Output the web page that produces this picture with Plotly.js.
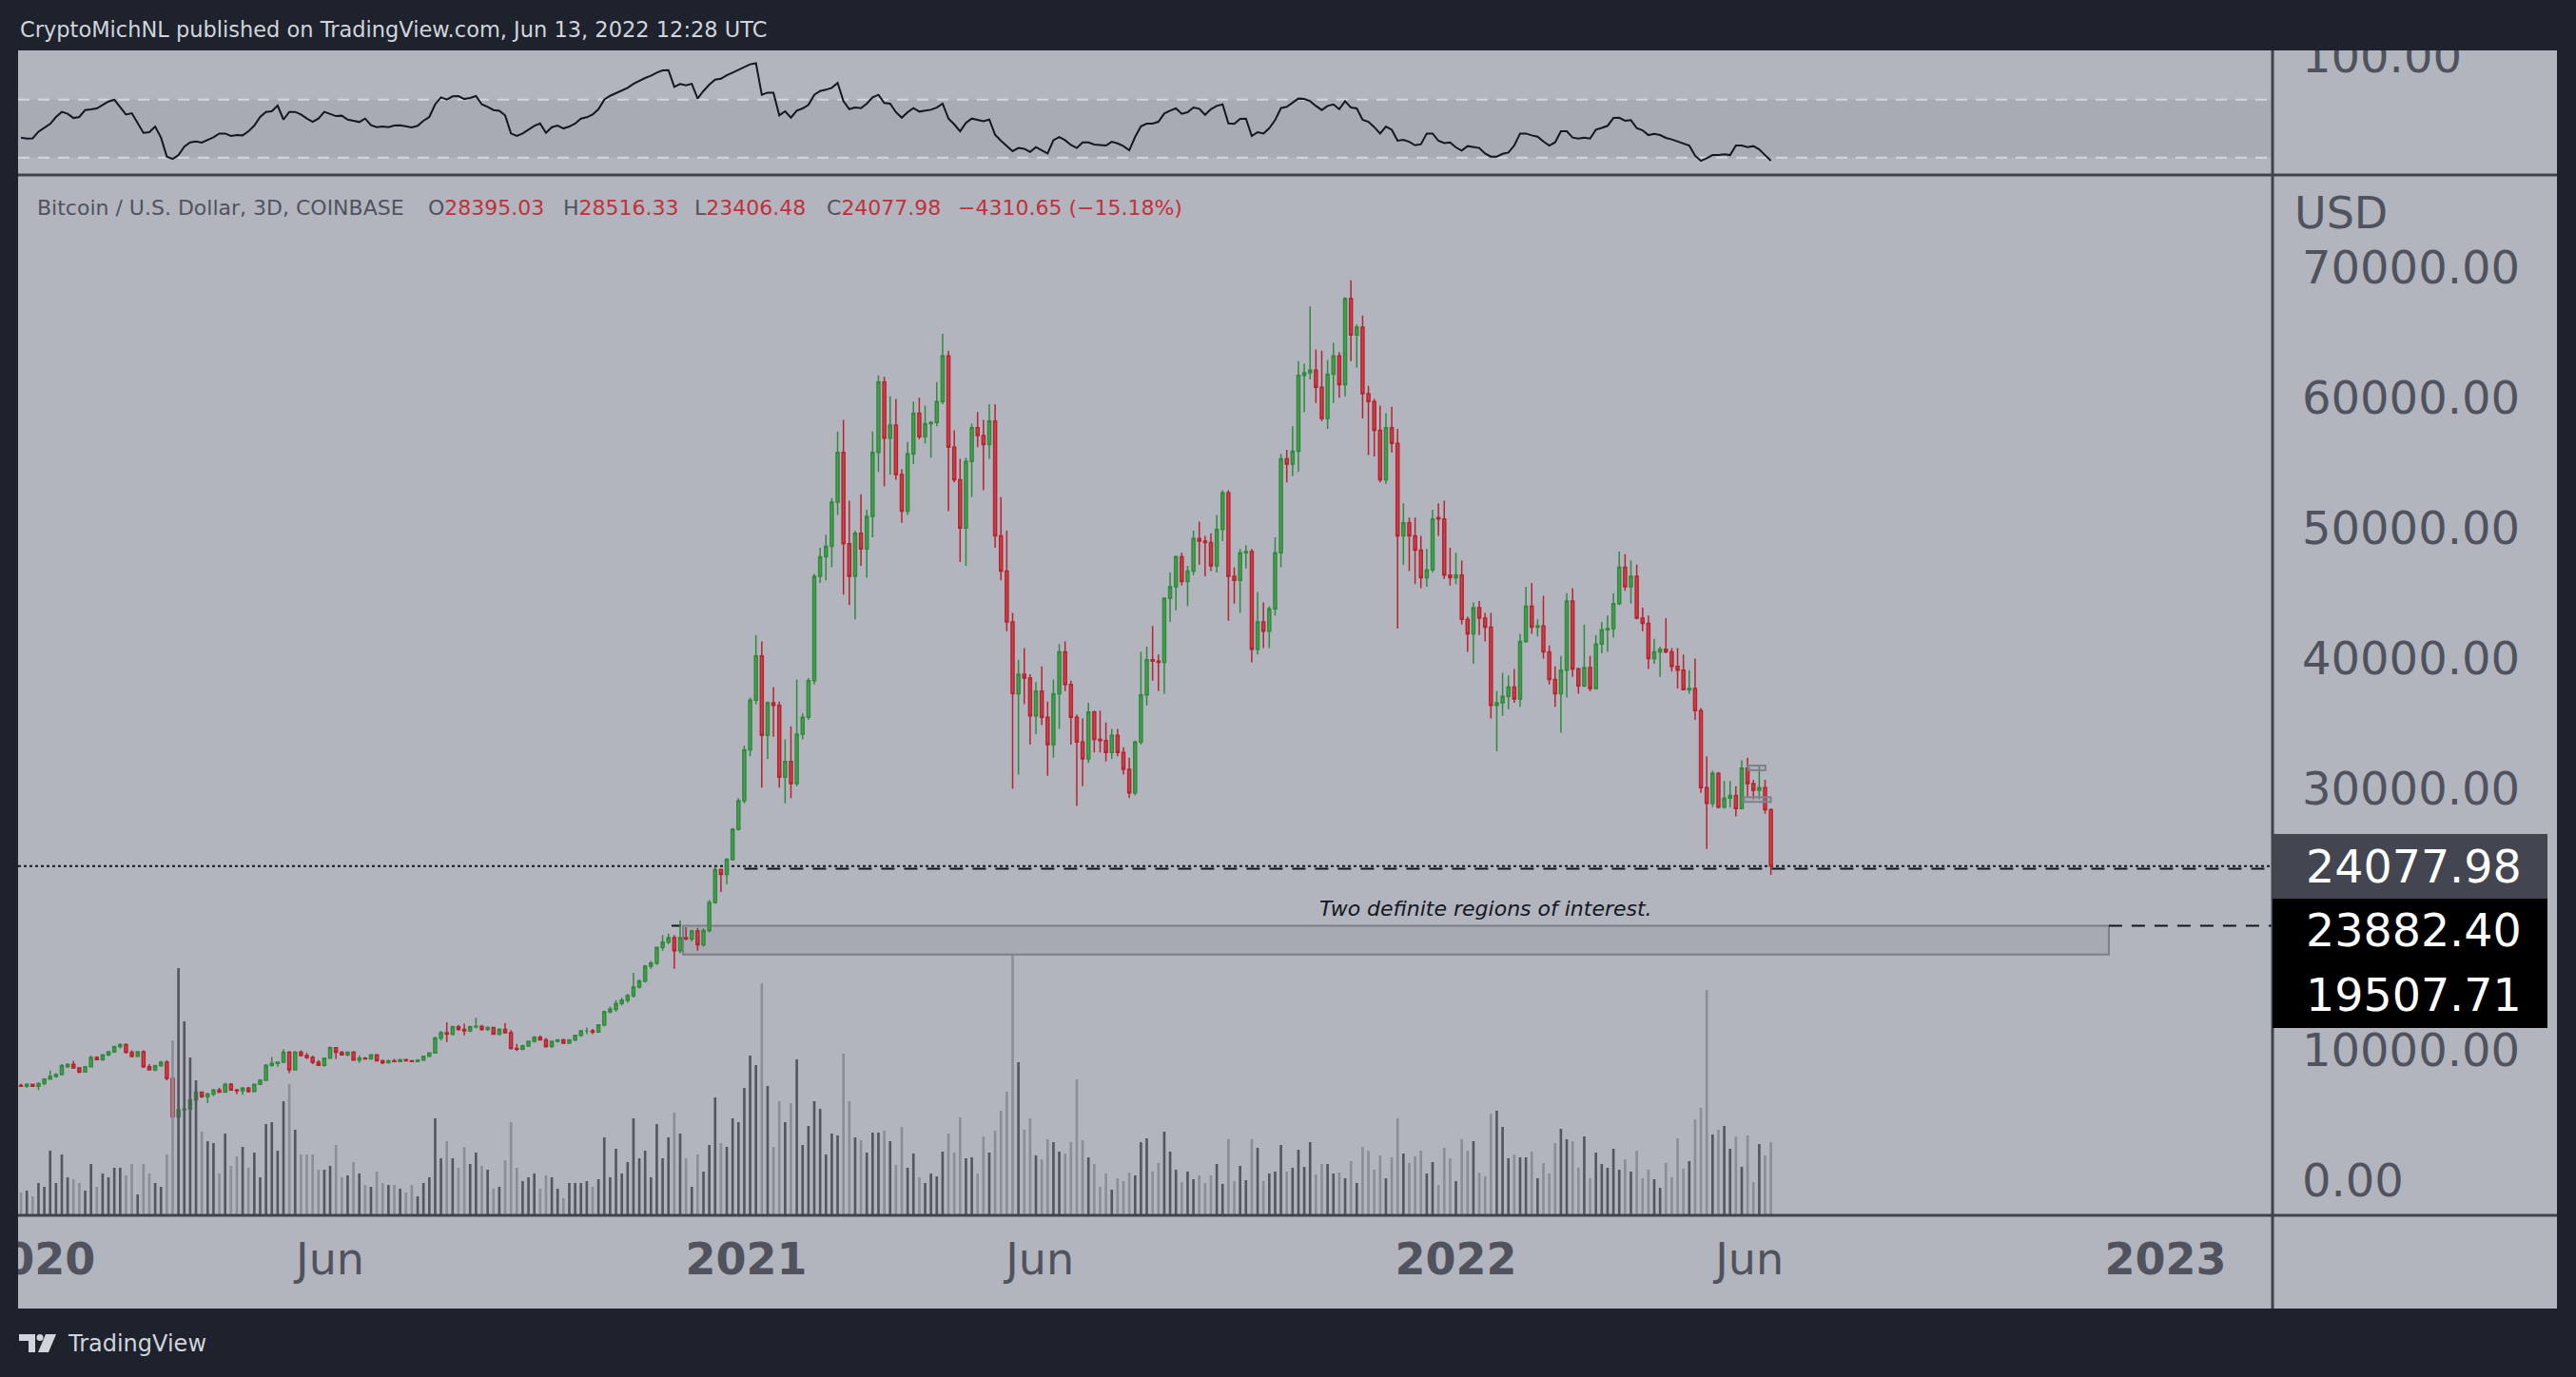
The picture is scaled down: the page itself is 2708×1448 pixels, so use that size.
<!DOCTYPE html>
<html>
<head>
<meta charset="utf-8">
<script src="https://cdn.plot.ly/plotly-3.0.1.min.js"></script>
<style>
  html, body { margin: 0; padding: 0; background: #1e222d; }
  #chart { width: 2708px; height: 1448px; }
</style>
</head>
<body>
<div id="chart"></div>
<script>
// ---------------- DATA ----------------
// 3-day candles, first bar 2019-12-25, one bar every 3 days
const START_DATE = '2019-12-25';
const BAR_DAYS = 3;

const OPEN = [7250,7200,7350,7200,7400,7750,7950,8100,8700,8880,8600,8300,8700,9400,9250,9600,9850,10250,10400,9800,
9500,9850,8700,8450,8780,9050,7800,4850,5400,5450,6150,6750,6400,6600,6900,6750,7350,6900,6850,7050,
6800,7350,7650,8800,8950,9050,9800,8450,9800,9550,9400,9050,8800,9350,10150,9800,9600,9800,9200,9350,
9300,9600,9150,9000,9150,9100,9250,9150,9100,9200,9500,9750,10900,11300,11200,11750,11550,11450,11750,11800,
11550,11700,11200,11550,11300,10100,10050,10300,10650,10950,10750,10250,10650,10750,10500,10750,11100,11450,11450,11350,
11900,12900,13100,13550,13800,14150,14800,15250,16400,16650,17850,18250,18600,17600,18600,18500,19100,18050,19150,21300,
23800,23450,24600,26900,29100,33000,36800,40200,34100,36600,36400,30900,32100,30400,34200,35500,38300,46300,47800,48600,
52000,55800,48800,46300,49600,48400,50900,55800,61200,56900,57900,54100,51300,55700,58800,57000,58000,58100,59700,63200,
56200,53700,50000,55100,57700,57100,56400,58200,49400,46700,42800,37300,38800,38500,35600,37500,35500,33400,37300,40500,
38000,35500,33600,32300,35900,33800,33700,32800,34100,32800,31500,29700,33600,37200,39900,39800,39700,44600,45500,47800,
45900,46700,49200,49000,48900,47100,49900,52700,46300,46000,48100,48200,40700,42800,42100,43800,48100,55300,54900,55900,
61700,61900,62100,60800,58400,61800,63200,61000,67600,64800,65400,60300,59700,57500,53700,57700,56500,49400,50400,49400,
48300,46200,46800,50800,50700,46400,46200,46400,43000,41900,43900,43100,42400,36400,36600,37100,37800,36900,41300,44000,
42400,42500,40500,38400,37300,39100,44400,39200,37900,39300,37700,41100,42200,42300,44200,47000,45500,46300,43100,42700,
40000,40500,40700,40500,39400,39100,37600,37700,36000,30100,28900,31200,28600,29300,29500,28500,31600,30400,29900,30100,
28395.03];

const HIGH = [7400,7420,7400,7500,7800,8400,8200,8900,8950,9150,8650,8750,9550,9500,9650,9900,10300,10500,10500,9950,
9900,9950,8900,8850,9150,9200,7950,5950,6150,6300,6850,6800,6700,7000,7100,7450,7450,7000,7150,7150,
7400,7750,8900,9450,9100,10050,9900,9900,9950,9750,9550,9200,9400,10250,10200,9900,9850,9900,9550,9450,
9650,9650,9250,9250,9300,9300,9300,9200,9250,9550,9800,11000,11450,12100,11850,11900,12000,11850,12450,11900,
11800,11750,11650,12050,11500,10450,10400,10700,11050,11100,10900,10700,10800,10850,10800,11150,11500,11700,11600,11950,
13000,13300,13800,14000,14300,15900,15400,16500,16800,17900,18800,18900,18800,19900,19400,19200,19350,19300,21500,24000,
23900,24700,27000,29300,33300,37000,41800,41300,36700,37800,36700,33800,34800,38400,35800,38500,46500,48500,49500,52300,
57400,58300,52100,49800,52600,51400,57400,61700,61600,60100,59900,54500,56600,59700,60000,59400,58200,61200,64900,63600,
57500,55300,55400,58000,58900,58300,59500,59500,52400,49800,43500,39900,40800,38800,38200,39400,36700,38400,41100,41300,
38300,35700,35400,36600,36000,36000,35100,34600,34600,33200,32400,33700,40500,40900,42500,40300,44700,46600,47900,48100,
47100,49800,50500,49400,49600,51000,52900,52900,47000,48400,48700,48400,45100,44300,44000,49300,55700,56000,57800,62800,
62600,67000,63700,63600,62900,64200,63500,67700,69000,65600,66300,60900,59900,59400,58800,59300,57600,51900,50800,50800,
49400,48400,51400,51900,52100,48500,48100,47500,43200,44300,44400,43500,43500,37500,38900,38700,39200,41900,45500,45800,
43000,44800,41000,39400,40200,45000,45400,39300,42600,40200,41800,42800,43300,45000,48200,48000,47500,47200,43900,43300,
41500,40900,43100,40800,40800,40300,39100,40000,36200,32500,31400,31300,30600,30600,30200,32200,32400,30700,31800,30700,
28516.33];

const LOW = [7150,7100,7150,6900,7300,7700,7850,8050,8600,8550,8200,8250,8650,9200,9150,9500,9750,10100,9700,9400,
9450,8600,8400,8350,8700,7650,4650,3850,4450,5350,5950,6300,5900,6450,6700,6700,6850,6600,6550,6700,
6750,7300,7600,8700,8700,9000,8200,8400,9500,9300,8900,8750,8700,9300,9300,9550,9500,9150,9000,9250,
9250,9100,8900,8950,9050,9050,9100,9050,9050,9150,9450,9700,10700,10600,11100,11450,11100,11350,11650,11450,
11450,11150,11100,11250,10000,9900,9950,10200,10550,10700,10150,10150,10550,10450,10450,10650,11000,11200,11200,11300,
11800,12800,12900,13400,13600,14000,14700,15150,16200,16500,17600,18100,16200,17400,18400,18300,17600,17900,19000,21200,
22100,22700,24500,26800,28900,32500,36500,30100,32300,34000,30100,28900,29300,30200,33800,35300,38000,45800,46000,47000,
51000,44900,44100,43000,47100,46200,49300,54300,53200,54100,53700,50400,51000,54900,56800,56500,55400,57800,59500,51300,
53500,47400,47100,52400,56200,52900,55300,48500,46000,42100,30000,31100,36500,33400,34200,34900,31000,32400,34600,37500,
33400,28700,30200,32000,32800,32800,32100,32300,32500,31100,29300,29500,33400,36400,38300,37500,37300,42800,43700,45600,
44000,46400,47200,46300,46700,46600,49000,42900,44200,43500,46900,39700,40300,40800,40800,43300,47000,53500,54000,54300,
58900,61400,59600,58200,57600,59600,60000,60100,62800,62300,58400,55600,55500,53500,53400,55800,42300,47200,46700,45700,
45400,45500,46600,49400,46100,45600,45700,42600,40500,39600,41800,41300,35400,32900,35600,36100,36600,36300,41200,41900,
41700,40000,38000,36300,34300,37000,38600,37300,37800,37500,37600,40400,40500,41600,44100,45200,44200,43000,42100,39200,
39600,38600,40400,39000,37700,37600,37300,35300,29700,25400,28600,28500,28500,28600,27900,28500,29400,29200,29200,28100,
23406.48];

const CLOSE = [7200,7350,7200,7400,7750,7950,8100,8780,8880,8600,8300,8700,9400,9250,9600,9850,10250,10400,9800,9500,
9850,8700,8450,8780,9050,7800,4850,5400,5450,6150,6750,6400,6600,6900,6750,7350,6900,6850,7050,6800,
7350,7650,8800,8950,9050,9800,8450,9800,9550,9400,9050,8800,9350,10150,9800,9600,9800,9200,9350,9300,
9600,9150,9000,9150,9100,9250,9150,9100,9200,9500,9750,10900,11300,11200,11750,11550,11450,11750,11800,11550,
11700,11200,11550,11300,10100,10050,10300,10650,10950,10750,10250,10650,10750,10500,10750,11100,11450,11450,11350,11900,
12900,13100,13550,13800,14150,14800,15250,16400,16650,17850,18250,18600,17600,18600,18500,19100,18050,19150,21300,23800,
23450,24600,26900,29100,33000,36800,40200,34100,36600,36400,30900,32100,30400,34200,35500,38300,46300,47800,48600,52000,
55800,48800,46300,49600,48400,50900,55800,61200,56900,57900,54100,51300,55700,58800,57000,58000,58100,59700,63200,56200,
53700,50000,55100,57700,57100,56400,58200,49400,46700,42800,37300,38800,38500,35600,37500,35500,33400,37300,40500,38000,
35500,33600,32300,35900,33800,33700,32800,34100,32800,31500,29700,33600,37200,39900,39800,39700,44600,45500,47800,45900,
46700,49200,49000,48900,47100,49900,52700,46300,46000,48100,48200,40700,42800,42100,43800,48100,55300,54900,55900,61700,
61900,62100,60800,58400,61800,63200,61000,67600,64800,65400,60300,59700,57500,53700,57700,56500,49400,50400,49400,48300,
46200,46800,50700,50700,46400,46200,46400,43000,41900,43900,43100,42400,36400,36600,37100,37800,36900,41300,44000,42400,
42500,40500,38400,37300,39100,44400,39200,37900,39300,37700,41100,42200,42300,44200,47000,45500,46300,43100,42700,40000,
40500,40700,40500,39400,39100,37600,37700,36000,30100,28900,31200,28600,29300,29500,28500,31600,30400,29900,30100,28395,
24077.98];

// volume (relative units, thousands)
const VOLUME = [12,13,10,17,15,34,17,32,20,19,17,13,27,15,22,20,25,25,21,27,
11,27,22,17,15,32,92,130,102,83,71,44,39,38,22,43,26,31,36,25,
33,20,48,49,34,60,69,45,32,32,32,24,24,26,37,20,21,28,22,16,
15,23,17,16,16,14,12,16,10,17,20,51,30,39,30,25,36,27,33,26,
24,14,15,29,49,25,18,20,22,14,21,20,14,9,17,17,17,18,15,19,
41,20,35,22,28,51,30,34,20,48,30,41,54,43,30,15,32,23,37,62,
38,36,51,49,67,84,79,122,68,36,60,49,59,82,37,47,60,56,32,43,
42,85,60,41,39.5,33,43.5,43.5,44.5,39,26.5,46.5,25,32.5,20,17,22,20.5,33.5,43,
33,51.5,30,30.5,22,41.5,33,44.5,55,65,137,80.5,45,51,31.5,29.5,40,38.5,33.5,32.5,
38.5,71.5,39.5,30.5,27,15,22,13.5,19.5,18,22.5,21,38.5,40.5,23,27.5,44,33.5,24,17.5,
23,19,21,17,21,27,16.5,40,18,26,18.5,40,35.5,18,22,23,37,23,25,34.5,
25.5,38.5,21.5,27,27,22,22.5,19.5,28.5,17,36,34,24,31.5,19.5,30.5,51,32.5,27.5,31,
34,22,28,16,35.5,30,18,40,34,39,22.5,20.5,53.5,55,46.5,30,32,30.5,30.5,33.5,
19.5,27.5,22,38,45.5,40,39,25,41.5,19.5,33,27,25,35,24,29.5,23,34,19.5,24,
19,14.5,27.5,20,40.5,24.5,28.5,50.5,56.5,118.5,42.5,45,47,35,41.5,25.5,42,17.5,37.5,31.5,
38.5];

// RSI (14) values
const RSI = [43.8,43.1,43.3,47.9,50.5,53.2,58.0,61.5,60.2,57.3,58.0,62.8,63.2,63.9,66.3,68.7,69.8,64.5,59.7,60.6,
53.6,47.0,47.5,51.4,43.8,30.7,29.1,31.7,37.6,40.5,41.1,40.3,42.2,44.0,46.6,46.6,44.9,45.5,45.3,48.1,
52.1,58.0,61.5,61.9,65.8,56.2,61.5,61.5,59.7,56.9,54.7,56.9,61.5,60.2,58.6,58.9,56.2,55.4,54.5,56.9,
52.3,51.0,51.4,51.0,52.1,52.3,51.6,50.8,51.9,55.4,58.0,66.7,71.5,70.0,72.2,72.4,70.4,71.1,72.4,66.7,
65.0,62.8,62.3,59.1,46.6,44.9,46.6,49.2,51.9,53.6,47.0,51.0,52.1,50.1,51.4,53.4,56.9,57.8,59.7,63.4,
70.0,72.6,74.4,75.9,78.1,80.9,83.1,84.9,86.4,88.6,90.1,90.3,78.7,80.7,79.8,80.9,70.7,75.9,80.3,83.8,
84.4,86.8,88.6,90.5,92.5,94.3,95.1,73.3,74.8,74.8,59.1,61.9,57.5,62.3,63.9,66.3,73.3,75.9,76.8,78.1,
81.4,68.9,63.4,64.5,64.1,67.2,71.5,73.3,67.6,67.2,61.3,
57.5,61.3,64.1,61.7,62.3,63.0,64.5,67.2,56.9,52.9,48.1,54.0,56.9,55.8,55.1,56.2,45.7,41.6,38.3,34.4,
36.6,36.1,33.9,37.2,35.0,32.8,42.0,44.2,42.0,38.7,36.6,40.5,40.5,39.0,38.7,38.3,40.9,39.8,37.9,35.0,
44.2,51.6,53.4,53.4,54.7,60.4,62.3,63.9,60.2,61.3,64.5,63.7,59.5,63.4,65.6,66.7,53.6,53.2,56.7,56.9,
44.9,47.5,46.6,50.3,55.8,64.1,65.0,67.6,70.7,70.4,68.9,65.6,62.8,65.6,66.7,63.4,68.9,64.5,63.9,56.0,
54.7,51.0,46.6,51.4,49.2,41.6,42.2,40.9,38.5,39.2,46.6,46.6,41.6,40.0,40.5,37.0,34.8,37.9,37.2,36.6,
32.8,30.7,30.7,32.6,33.5,38.3,46.6,46.6,45.3,44.4,41.1,38.3,40.5,48.1,48.1,43.8,43.1,43.8,43.1,49.2,
50.5,51.9,57.3,57.5,55.4,55.8,50.3,48.8,45.5,46.4,45.5,43.6,42.5,41.1,39.6,38.3,31.3,27.8,29.6,31.7,
31.7,32.2,31.7,38.3,38.3,37.2,37.9,35.7,31.7,27.8];

const X_TICK_VALS = ['2020-01-01','2020-06-01','2021-01-01','2021-06-01','2022-01-01','2022-06-01','2023-01-01'];
const X_TICK_TEXT = ['<b>2020</b>','Jun','<b>2021</b>','Jun','<b>2022</b>','Jun','<b>2023</b>'];
const Y_TICK_VALS = [0,10000,30000,40000,50000,60000,70000];
const Y_TICK_TEXT = ['0.00','10000.00','30000.00','40000.00','50000.00','60000.00','70000.00'];
const RSI_TICK_VALS = [100];
const RSI_TICK_TEXT = ['100.00'];
const RSI_BAND = [30, 70];

const LAST_PRICE = 24077.98;
const LEVEL_A = 23882.40;
const LEVEL_B = 19507.71;
const ZONE_BOTTOM = 17300;
const ZONE_START = '2020-11-29 12:00';
const ZONE_END = '2022-12-02 19:00';
const LEVEL_A_START = '2020-12-31';
const MINI_BOX_1 = {x0:'2022-05-31 07:00', x1:'2022-06-09 05:00', y0:31430, y1:31790};
const MINI_BOX_2 = {x0:'2022-05-29 02:00', x1:'2022-06-12', y0:29000, y1:29360};
const X_RANGE = ['2019-12-23 12:00', '2023-02-25'];

// ---------------- BUILD ----------------
const W = 2708, H = 1448;
const fx = p => p / W;
const fy = p => 1 - p / H;
const DAY = 864e5;
const t0 = Date.parse(START_DATE + 'T00:00:00Z');
const DATES = CLOSE.map((_, i) => new Date(t0 + i * BAR_DAYS * DAY).toISOString().slice(0, 10));

const FONT = 'DejaVu Sans';
const AXIS_TXT = '#50535e';
const volColors = CLOSE.map((c, i) => c >= OPEN[i] ? '#54575f' : '#8b8e97');

const traces = [
  {
    type: 'bar', x: DATES, y: VOLUME, xaxis: 'x', yaxis: 'y3',
    width: 1.3 * DAY, marker: { color: volColors, line: { width: 0 } },
    hoverinfo: 'skip'
  },
  {
    type: 'candlestick', x: DATES, open: OPEN, high: HIGH, low: LOW, close: CLOSE,
    xaxis: 'x', yaxis: 'y', whiskerwidth: 0,
    increasing: { line: { color: '#2f8a3b', width: 1.5 }, fillcolor: '#4c9e53' },
    decreasing: { line: { color: '#b8232f', width: 1.5 }, fillcolor: '#c8454c' },
    hoverinfo: 'skip'
  },
  {
    type: 'scatter', mode: 'lines', x: DATES, y: RSI, xaxis: 'x2', yaxis: 'y2',
    line: { color: '#131722', width: 2 }, hoverinfo: 'skip'
  }
];

const rect = (x0, y0, x1, y1, color, layer) => ({
  type: 'rect', xref: 'paper', yref: 'paper', x0: fx(x0), x1: fx(x1), y0: fy(y1), y1: fy(y0),
  fillcolor: color, line: { width: 0 }, layer: layer
});
const hline = (x0, x1, y, color, w, layer) => ({
  type: 'line', xref: 'paper', yref: 'paper', x0: fx(x0), x1: fx(x1), y0: fy(y), y1: fy(y),
  line: { color: color, width: w }, layer: layer
});
const poly = pts => 'M ' + pts.map(p => fx(p[0]) + ',' + fy(p[1])).join(' L ') + ' Z';

const shapes = [
  rect(19, 53, 2688, 1376, '#b2b5be', 'below'),
  { type: 'rect', xref: 'paper', yref: 'y2', x0: fx(19), x1: fx(2389), y0: RSI_BAND[0], y1: RSI_BAND[1],
    fillcolor: '#a8abb4', line: { width: 0 }, layer: 'below' },
  { type: 'line', xref: 'paper', yref: 'y2', x0: fx(19), x1: fx(2389), y0: RSI_BAND[1], y1: RSI_BAND[1],
    line: { color: '#d4d6db', width: 2, dash: '12px,9px' }, layer: 'below' },
  { type: 'line', xref: 'paper', yref: 'y2', x0: fx(19), x1: fx(2389), y0: RSI_BAND[0], y1: RSI_BAND[0],
    line: { color: '#d4d6db', width: 2, dash: '12px,9px' }, layer: 'below' },
  // region of interest
  { type: 'rect', xref: 'x', yref: 'y', x0: ZONE_START, x1: ZONE_END, y0: ZONE_BOTTOM, y1: LEVEL_B,
    fillcolor: '#a7aab2', line: { color: '#7c7f88', width: 2 }, layer: 'below' },
  // price lines
  { type: 'line', xref: 'paper', yref: 'y', x0: fx(19), x1: fx(2389), y0: LAST_PRICE, y1: LAST_PRICE,
    line: { color: '#131722', width: 2, dash: 'dot' }, layer: 'below' },
  { type: 'line', xref: 'x', yref: 'y', x0: LEVEL_A_START, x1: X_RANGE[1], y0: LEVEL_A, y1: LEVEL_A,
    line: { color: '#131722', width: 2, dash: '14px,10px' }, layer: 'below' },
  { type: 'line', xref: 'x', yref: 'y', x0: ZONE_END, x1: X_RANGE[1], y0: LEVEL_B, y1: LEVEL_B,
    line: { color: '#131722', width: 2, dash: '14px,10px' }, layer: 'below' },
  { type: 'line', xref: 'x', yref: 'y', x0: '2020-11-23 14:00', x1: '2020-11-28 12:00', y0: LEVEL_B, y1: LEVEL_B,
    line: { color: '#131722', width: 2 }, layer: 'below' },
  // small boxes near the last bars
  { type: 'rect', xref: 'x', yref: 'y', x0: MINI_BOX_1.x0, x1: MINI_BOX_1.x1, y0: MINI_BOX_1.y0, y1: MINI_BOX_1.y1,
    fillcolor: 'rgba(150,153,160,0.25)', line: { color: '#7f828b', width: 2 }, layer: 'above' },
  { type: 'rect', xref: 'x', yref: 'y', x0: MINI_BOX_2.x0, x1: MINI_BOX_2.x1, y0: MINI_BOX_2.y0, y1: MINI_BOX_2.y1,
    fillcolor: 'rgba(150,153,160,0.25)', line: { color: '#7f828b', width: 2 }, layer: 'above' },
  // separators
  hline(19, 2688, 184, '#40434c', 3, 'above'),
  hline(19, 2688, 1278, '#40434c', 3, 'above'),
  { type: 'line', xref: 'paper', yref: 'paper', x0: fx(2389), x1: fx(2389), y0: fy(53), y1: fy(1376),
    line: { color: '#40434c', width: 3 }, layer: 'above' },
  // dark frame covers
  rect(0, 0, 2708, 53, '#1e222d', 'above'),
  rect(0, 53, 19, 1376, '#1e222d', 'above'),
  rect(2688, 53, 2708, 1376, '#1e222d', 'above'),
  // price label boxes
  rect(2389, 877, 2678, 945, '#434651', 'above'),
  rect(2389, 945, 2678, 1012, '#000000', 'above'),
  rect(2389, 1012, 2678, 1081, '#000000', 'above'),
  // TradingView logo
  { type: 'path', xref: 'paper', yref: 'paper', path: poly([[20,1403],[37,1403],[37,1422],[30,1422],[30,1410],[20,1410]]),
    fillcolor: '#d1d4dc', line: { width: 0 }, layer: 'above' },
  { type: 'circle', xref: 'paper', yref: 'paper', x0: fx(38.5), x1: fx(45.5), y0: fy(1410), y1: fy(1403),
    fillcolor: '#d1d4dc', line: { width: 0 }, layer: 'above' },
  { type: 'path', xref: 'paper', yref: 'paper', path: poly([[48,1403],[59,1403],[51,1422],[40,1422]]),
    fillcolor: '#d1d4dc', line: { width: 0 }, layer: 'above' }
];

const ann = (x, y, text, size, color, anchor, extra) => Object.assign({
  xref: 'paper', yref: 'paper', x: fx(x), y: fy(y), text: text, showarrow: false,
  xanchor: anchor || 'left', yanchor: 'middle', font: { family: FONT, size: size, color: color }
}, extra || {});

const RED = '#c4303a';
const span = t => '<span style="color:' + RED + '">' + t + '</span>';
const annotations = [
  ann(19, 31, 'CryptoMichNL published on TradingView.com, Jun 13, 2022 12:28 UTC', 22.5, '#d1d4dc'),
  ann(37, 218, 'Bitcoin / U.S. Dollar, 3D, COINBASE', 22, AXIS_TXT),
  ann(448, 218, 'O' + span('28395.03'), 22, AXIS_TXT),
  ann(590, 218, 'H' + span('28516.33'), 22, AXIS_TXT),
  ann(728, 218, 'L' + span('23406.48'), 22, AXIS_TXT),
  ann(867, 218, 'C' + span('24077.98'), 22, AXIS_TXT),
  ann(1005, 218, '\u22124310.65 (\u221215.18%)', 22, RED),
  ann(2410, 224, 'USD', 46, AXIS_TXT),
  ann(2422, 911, LAST_PRICE.toFixed(2), 47.5, '#ffffff'),
  ann(2422, 978, LEVEL_A.toFixed(2), 47.5, '#ffffff'),
  ann(2422, 1046, LEVEL_B.toFixed(2), 47.5, '#ffffff'),
  ann(1562, 955, '<i>Two definite regions of interest.</i>', 22, '#131722', 'center'),
  ann(69, 1413, 'TradingView', 24, '#d1d4dc')
];

const tickFont = { family: FONT, size: 48, color: AXIS_TXT };
const xTickFont = { family: FONT, size: 46, color: AXIS_TXT };
const layout = {
  width: W, height: H,
  margin: { l: 0, r: 0, t: 0, b: 0, pad: 0 },
  paper_bgcolor: '#1e222d', plot_bgcolor: 'rgba(0,0,0,0)',
  showlegend: false, hovermode: false, dragmode: false,
  xaxis: {
    type: 'date', domain: [fx(19), fx(2389)], range: X_RANGE, anchor: 'y',
    tickmode: 'array', tickvals: X_TICK_VALS, ticktext: X_TICK_TEXT, tickfont: xTickFont,
    ticks: '', showgrid: false, zeroline: false, showline: false,
    rangeslider: { visible: false }, ticklabeloverflow: 'allow', ticklabelstandoff: 15, fixedrange: true
  },
  yaxis: {
    domain: [fy(1278), fy(184)], range: [-2698, 77075], side: 'right', anchor: 'x',
    tickmode: 'array', tickvals: Y_TICK_VALS, ticktext: Y_TICK_TEXT, tickfont: tickFont,
    ticks: '', showgrid: false, zeroline: false, showline: false, ticklabelstandoff: 30, fixedrange: true
  },
  yaxis3: { overlaying: 'y', anchor: 'x', range: [0, 547], visible: false, fixedrange: true },
  xaxis2: {
    type: 'date', domain: [fx(19), fx(2389)], range: X_RANGE, anchor: 'y2',
    visible: false, showgrid: false, zeroline: false, fixedrange: true
  },
  yaxis2: {
    domain: [fy(184), fy(53)], range: [18.0, 103.9], side: 'right', anchor: 'x2',
    tickmode: 'array', tickvals: RSI_TICK_VALS, ticktext: RSI_TICK_TEXT, tickfont: tickFont,
    ticks: '', showgrid: false, zeroline: false, showline: false, ticklabelstandoff: 30, fixedrange: true
  },
  shapes: shapes,
  annotations: annotations
};

Plotly.newPlot('chart', traces, layout, { displayModeBar: false, staticPlot: true });
</script>
</body>
</html>
